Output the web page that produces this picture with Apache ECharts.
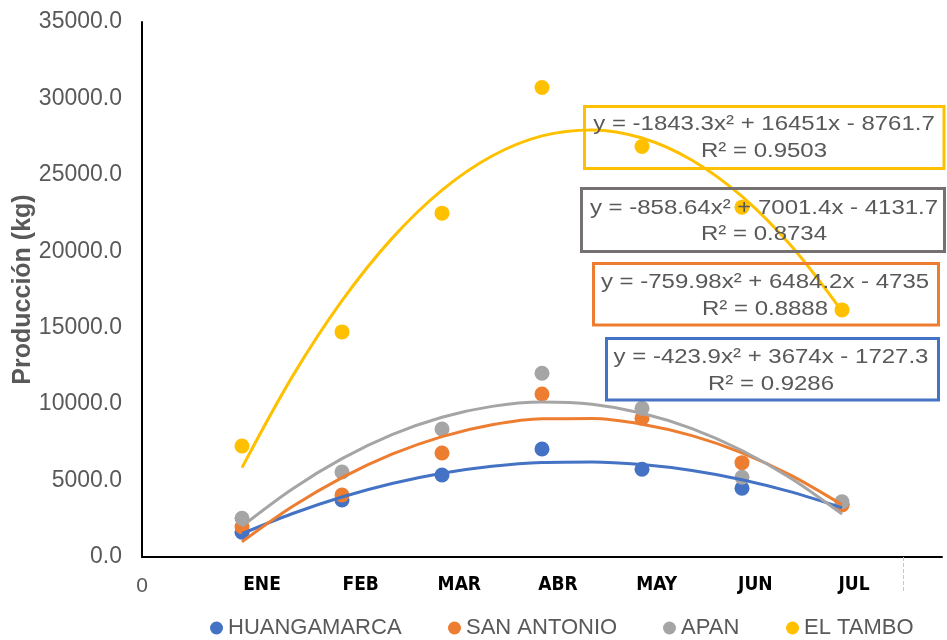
<!DOCTYPE html>
<html>
<head>
<meta charset="utf-8">
<script src="https://cdn.jsdelivr.net/npm/echarts@6/dist/echarts.min.js"></script>
<style>
html, body { margin: 0; padding: 0; background: #ffffff; }
#container-produccion { width: 947px; height: 640px; }
</style>
</head>
<body>
<div id="container-produccion"></div>
<script>
// datos
const meses = ['ENE', 'FEB', 'MAR', 'ABR', 'MAY', 'JUN', 'JUL']
const mesX = [1, 2, 3, 4, 5, 6, 7]
const nombres = ['HUANGAMARCA', 'SAN ANTONIO', 'APAN', 'EL TAMBO']
const colores = ['#4472C4', '#ED7D31', '#A5A5A5', '#FFC000']

const huangamarca = [1617, 3731, 5367, 7069, 5740, 4496, 3450]
const sanAntonio = [1983, 4058, 6807, 10668, 9078, 6172, 3403]
const apan = [2533, 5563, 8378, 12023, 9732, 5216, 3619]
const elTambo = [7265, 14726, 22495, 30716, 26854, 22888, 16166]

// lineas de tendencia (polinomica 2), leidas cada medio mes
const tendX = [1, 1.5, 2, 2.5, 3, 3.5, 4, 4.5, 5, 5.5, 6, 6.5, 7]
const tendHuangamarca = [1523, 2830, 3925, 4808, 5480, 5939, 6186, 6222, 6045, 5657, 5056, 4244, 3220]
const tendSanAntonio = [989, 3281, 5194, 6726, 7878, 8650, 9042, 9054, 8687, 7939, 6811, 5303, 3415]
const tendApan = [2011, 4439, 6437, 8005, 9145, 9855, 10136, 9987, 9409, 8402, 6966, 5100, 2805]
const tendElTambo = [5846, 11767, 16767, 20845, 24002, 26236, 27550, 27941, 27411, 25959, 23586, 20290, 16074]

const ecuaciones = [
  'y = -423.9x² + 3674x - 1727.3',
  'y = -759.98x² + 6484.2x - 4735',
  'y = -858.64x² + 7001.4x - 4131.7',
  'y = -1843.3x² + 16451x - 8761.7'
]
const r2 = ['R² = 0.9286', 'R² = 0.8888', 'R² = 0.8734', 'R² = 0.9503']

const yTicks = [0, 5000, 10000, 15000, 20000, 25000, 30000, 35000]

const puntos = [huangamarca, sanAntonio, apan, elTambo]
const tendencias = [tendHuangamarca, tendSanAntonio, tendApan, tendElTambo]

const fuente = 'Liberation Sans, Arial, sans-serif'
const gris = '#595959'

// cajas de las ecuaciones: [x, y, ancho, alto, centroTextoX, centroTextoY]
const cajas = [
  [606.5, 338.5, 332, 61.5, 771, 371],
  [593.5, 263.5, 345, 61.5, 765, 296],
  [581.5, 188.5, 363, 63, 764, 221.5],
  [584.5, 106.5, 359.5, 62, 764, 138]
]
const bordes = ['#4472C4', '#ED7D31', '#767171', '#FFC000']

var chartDom = document.getElementById('container-produccion')
var myChart = echarts.init(chartDom)
var option

const series = []
for (let i = 0; i < nombres.length; i++) {
  series.push({
    name: nombres[i],
    type: 'scatter',
    symbolSize: 15,
    z: 2,
    itemStyle: { color: colores[i], opacity: 1 },
    data: mesX.map((x, k) => [x, puntos[i][k]])
  })
}
for (let i = 0; i < nombres.length; i++) {
  series.push({
    name: 'tendencia ' + nombres[i],
    type: 'line',
    smooth: 0.33,
    showSymbol: false,
    silent: true,
    z: 3,
    lineStyle: { color: colores[i], width: 3 },
    data: tendX.map((x, k) => [x, tendencias[i][k]])
  })
}

const graphic = []
for (let i = 0; i < cajas.length; i++) {
  const c = cajas[i]
  graphic.push({
    type: 'rect',
    z: 10,
    shape: { x: c[0], y: c[1], width: c[2], height: c[3] },
    style: { fill: 'none', stroke: bordes[i], lineWidth: 3 }
  })
  graphic.push({
    type: 'text',
    z: 11,
    x: c[4],
    y: c[5],
    scaleX: 1.2,
    style: {
      text: ecuaciones[i] + '\n' + r2[i],
      fill: gris,
      font: '20px ' + fuente,
      align: 'center',
      verticalAlign: 'middle',
      textAlign: 'center',
      textVerticalAlign: 'middle',
      lineHeight: 26.5
    }
  })
}

const legendLeft = [210, 448, 663, 786]
const legend = nombres.map((n, i) => ({
  data: [n],
  left: legendLeft[i],
  top: 617,
  padding: 0,
  icon: 'circle',
  itemWidth: 13,
  itemHeight: 13,
  selectedMode: false,
  textStyle: { color: gris, fontSize: 22, fontFamily: fuente }
}))

option = {
  animation: false,
  backgroundColor: '#ffffff',
  textStyle: { fontFamily: fuente },
  grid: { left: 142, right: 5, top: 22, bottom: 83, containLabel: false, outerBoundsMode: 'none' },
  legend: legend,
  xAxis: [
    {
      type: 'value',
      min: 0,
      max: 8,
      interval: 1,
      axisLine: { show: true, onZero: false, lineStyle: { color: '#000000', width: 2 } },
      axisTick: { show: false },
      splitLine: { show: false },
      axisLabel: {
        customValues: [0],
        formatter: (v) => String(v),
        color: gris,
        fontSize: 21,
        margin: 19
      }
    },
    {
      // etiquetas de meses (en Excel van desplazadas de los puntos)
      type: 'value',
      position: 'bottom',
      offset: 8,
      min: -0.216,
      max: 7.892,
      axisLine: { show: false },
      splitLine: { show: false },
      axisTick: {
        show: true,
        customValues: [7.5],
        length: 35,
        lineStyle: { color: '#c8c8c8', width: 1, type: 'dashed' }
      },
      axisLabel: {
        customValues: mesX,
        formatter: (v) => meses[Math.round(v) - 1],
        color: '#000000',
        fontWeight: 'bold',
        fontSize: 19,
        fontFamily: 'Liberation Sans Narrow, DejaVu Sans Condensed, Liberation Sans, sans-serif',
        margin: 11
      }
    }
  ],
  yAxis: {
    type: 'value',
    min: yTicks[0],
    max: yTicks[yTicks.length - 1],
    interval: 5000,
    name: 'Producción (kg)',
    nameLocation: 'middle',
    nameGap: 106,
    nameMoveOverlap: false,
    nameTextStyle: { color: gris, fontSize: 25, fontWeight: 'bold', fontFamily: fuente },
    axisLine: { show: true, onZero: false, lineStyle: { color: '#000000', width: 2 } },
    axisTick: { show: false },
    splitLine: { show: false },
    axisLabel: {
      color: gris,
      fontSize: 23,
      margin: 20,
      formatter: (v) => v.toFixed(1)
    }
  },
  graphic: graphic,
  series: series
}

option && myChart.setOption(option)
</script>
</body>
</html>
